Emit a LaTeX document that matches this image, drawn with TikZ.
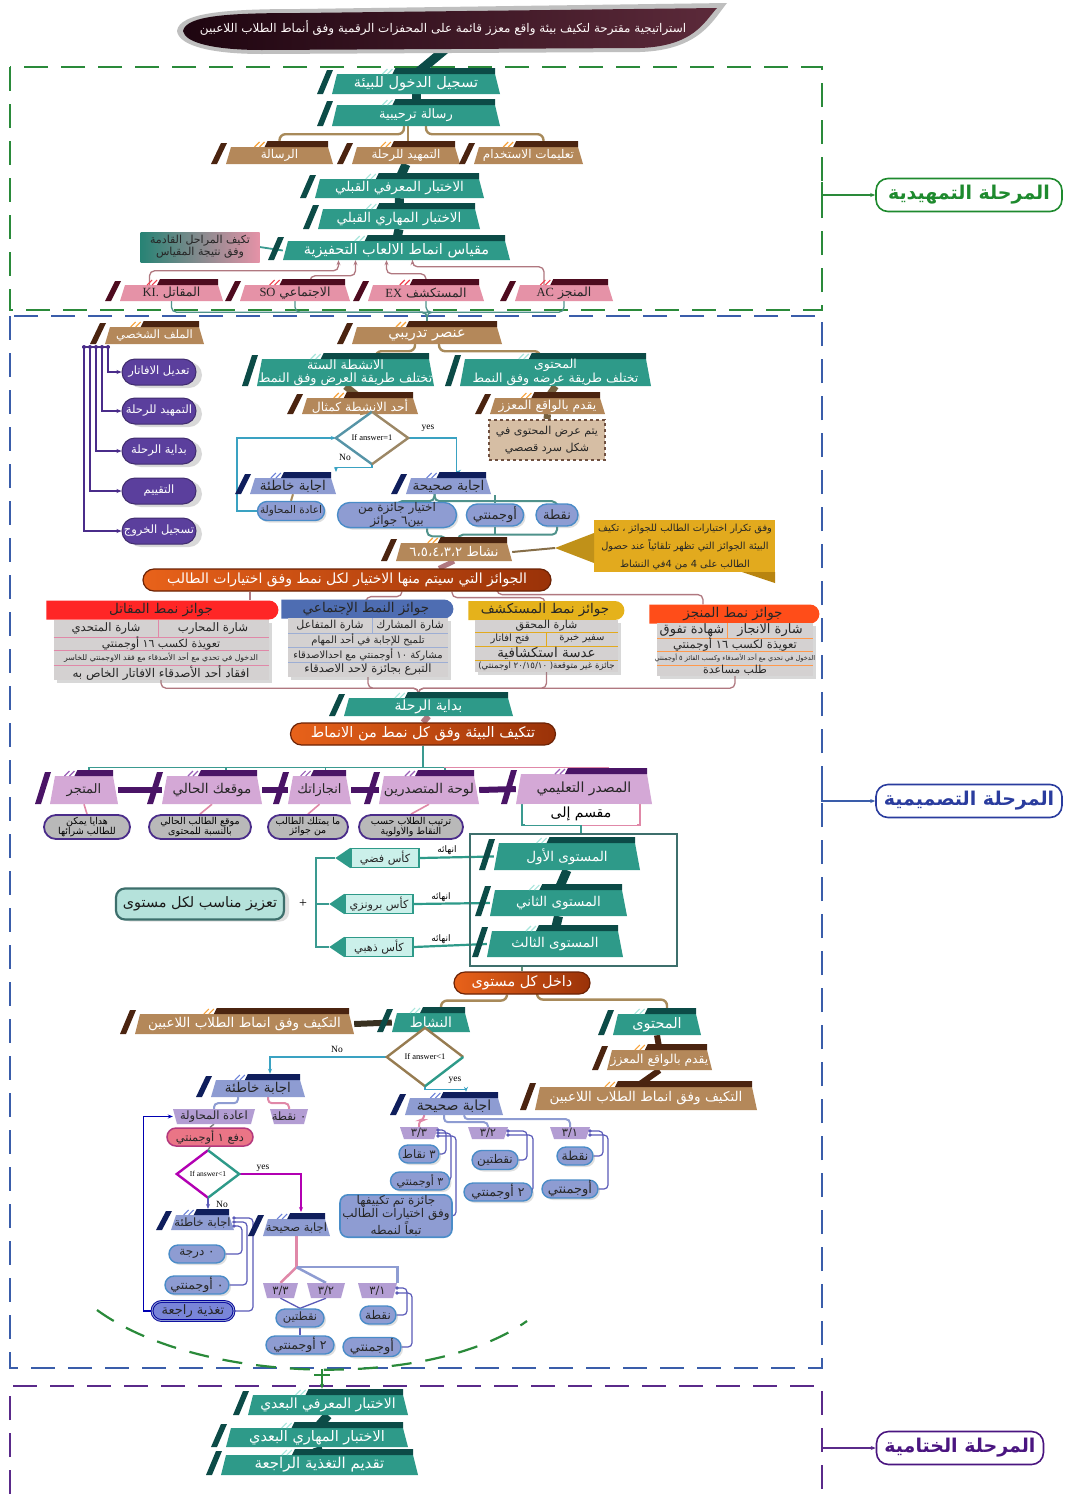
\documentclass[tikz,border=0pt]{standalone}
\usepackage{fontspec}
\setmainfont{Liberation Serif}
\newfontfamily\arabicfont[Script=Arabic]{DejaVu Sans}
\TeXXeTstate=1
\usetikzlibrary{shapes.geometric,shapes.misc,arrows.meta,shadows}
\pgfdeclarelayer{bg}
\pgfsetlayers{bg,main}
\newcommand\AR[1]{{\arabicfont\beginR #1\endR}}
\newcommand\fsz[2]{\fontsize{#1}{#2}\selectfont}
\newcommand\Fs[1]{\def\tbfont{\fsz{#1}{#1}}}
\definecolor{tealF}{HTML}{2E9A89}
\definecolor{tealD}{HTML}{0C4B47}
\definecolor{tealH}{HTML}{A8E6DC}
\definecolor{brownF}{HTML}{B4885A}
\definecolor{brownD}{HTML}{4B2410}
\definecolor{brownH}{HTML}{F7A23A}
\definecolor{pinkF}{HTML}{E592A7}
\definecolor{pinkD}{HTML}{4E0B1F}
\definecolor{pinkH}{HTML}{F0404F}
\definecolor{lavF}{HTML}{8E9CD2}
\definecolor{lavD}{HTML}{0F1E5C}
\definecolor{lavH}{HTML}{6A80D8}
\definecolor{orchF}{HTML}{D4A8D6}
\definecolor{orchD}{HTML}{4A1466}
\definecolor{orchH}{HTML}{9A60B8}
\definecolor{smallF}{HTML}{B39DD3}
\definecolor{titL}{HTML}{1E0510}
\definecolor{titR}{HTML}{5C2A3A}
\definecolor{secG}{HTML}{2A8A3A}
\definecolor{secB}{HTML}{3A5DAA}
\definecolor{secP}{HTML}{5A2A8A}
\definecolor{labG}{HTML}{1E8A2E}
\definecolor{labB}{HTML}{2A3C9E}
\definecolor{labP}{HTML}{4A1580}
\definecolor{purpF}{HTML}{5B3F9D}
\definecolor{purpD}{HTML}{4A2C8A}
\definecolor{pillB}{HTML}{4A8CC8}
\definecolor{brownL}{HTML}{A88A5A}
\definecolor{tealL}{HTML}{3A9A90}
\definecolor{pinkL}{HTML}{E088A8}
\definecolor{flowB}{HTML}{3AA2C2}
\definecolor{awL}{HTML}{B07880}
\definecolor{goldF}{HTML}{E2AA1E}
\definecolor{goldD}{HTML}{B88410}
\definecolor{oraL}{HTML}{E8621A}
\definecolor{oraR}{HTML}{9A3208}
\definecolor{tblG}{HTML}{D4D1D1}
\definecolor{brk}{HTML}{5A5AB8}
\newcommand\Teal{\def\cF{tealF}\def\cD{tealD}\def\cH{tealH}\def\cT{white}}
\newcommand\Brown{\def\cF{brownF}\def\cD{brownD}\def\cH{brownH}\def\cT{white}}
\newcommand\Pink{\def\cF{pinkF}\def\cD{pinkD}\def\cH{pinkH}\def\cT{black!85}}
\newcommand\Lav{\def\cF{lavF}\def\cD{lavD}\def\cH{lavH}\def\cT{black!85}}
\newcommand\Orch{\def\cF{orchF}\def\cD{orchD}\def\cH{orchH}\def\cT{black!85}}
\def\tbfont{\fsz{13}{14}}
\newcommand\TB[7]{\begingroup#1%
  \pgfmathsetmacro\xa{#3+0.36*(#5-#3)}%
  \fill[\cF] ({#3+5},#4) -- ({#5-5},#4) -- (#5,#6) -- (#3,#6) -- cycle;
  \fill[\cD] ({\xa+3},{#4-6}) -- ({#5-5},{#4-6}) -- ({#5-5},#4) -- (\xa,#4) -- cycle;
  \draw[\cH,line width=1.1pt] ({\xa-10},#4) -- ({\xa-5},{#4-5}) ({\xa-5},#4) -- (\xa,{#4-5});
  \fill[\cD] ({#3-15},#6) -- ({#3-9},#6) -- ({#3+1},{#4-4}) -- ({#3-5},{#4-4}) -- cycle;
  \node[inner sep=0pt,minimum width={#5-#3},minimum height={#6-#4},text=\cT,font=\tbfont,align=center] (#2) at ({(#3+#5)/2},{(#4+#6)/2}) {#7};
  \endgroup}
\newcommand\ST[6]{%
  \fill[smallF] (#2,#3) -- (#4,#3) -- ({#4-4},#5) -- ({#2+4},#5) -- cycle;
  \node[inner sep=0pt,minimum width={#4-#2},minimum height={#5-#3},text=black!85,font=\fsz{11.5}{12}] (#1) at ({(#2+#4)/2},{(#3+#5)/2}) {#6};}
\tikzset{
  dkc/.style={draw=tealD,line width=9pt},
  dkb/.style={draw=brownL!70!black,line width=7pt},
  brc/.style={draw=brownL,line width=2.4pt,rounded corners=6pt},
  pkc/.style={draw=awL,line width=1.3pt,rounded corners=5pt},
  gtc/.style={draw=tealL!70!gray,line width=1.3pt,rounded corners=5pt},
  flw/.style={draw=flowB,line width=1.4pt},
  lpill/.style={rounded rectangle,fill=lavF,draw=pillB,line width=1.4pt,text=black!85,font=\fsz{12}{12},inner xsep=3pt,inner ysep=0pt,align=center,drop shadow={opacity=0.25,shadow xshift=2pt,shadow yshift=-2pt}},
  ppill/.style={rounded rectangle,fill=purpF,draw=purpF!70!black,line width=1pt,text=white,font=\fsz{11.5}{12},minimum width=76,minimum height=26,inner sep=1pt,drop shadow={opacity=0.3,shadow xshift=6pt,shadow yshift=-3pt}},
  gpill/.style={rounded rectangle,fill=gray!55,draw=purpD,line width=1.8pt,text=black,font=\fsz{9.5}{9},align=center,inner sep=1pt,minimum height=24},
  obar/.style={rounded rectangle,left color=oraL,right color=oraR,draw=oraR!70!black,line width=1.2pt,text=white,inner sep=0pt,minimum height=22},
  hdr/.style={rounded rectangle,rounded rectangle west arc=none,inner sep=0pt,minimum height=19,text=black!85,font=\fsz{13.5}{14}},
  tbl/.style={rectangle,fill=tblG,inner sep=0pt,drop shadow={opacity=0.3,shadow xshift=3pt,shadow yshift=-3pt}},
  rowt/.style={inner sep=0pt,text=black!85,font=\fsz{11}{11}},
  tiny/.style={inner sep=0pt,text=black!85,font=\fsz{7.6}{8}},
  cup/.style={rectangle,fill=tealH!60!white,draw=tealF,line width=1.4pt,minimum width=68,minimum height=19,inner sep=0pt,font=\fsz{11.2}{12},text=black!85},
  dmd/.style={diamond,fill=white,inner sep=0pt,aspect=1.4,font=\fsz{8.5}{9}},
  lab/.style={rounded corners=12pt,draw,line width=1.6pt,fill=white,minimum height=33,inner sep=2pt,font=\fsz{19}{20}\bfseries},
  smalltxt/.style={inner sep=0pt,font=\fsz{9.5}{10},text=black}
}
\begin{document}
\begin{tikzpicture}[x=1pt,y=-1pt,>={Stealth[length=5pt,width=4pt]}]
\useasboundingbox (0,0) rectangle (1065,1494);
\begin{pgfonlayer}{bg}
\fill[white] (0,0) rectangle (1065,1494);
\draw[secG,line width=2.2pt,dash pattern=on 24pt off 13pt] (10,67) rectangle (822,310);
\draw[secB,line width=2.2pt,dash pattern=on 24pt off 13pt] (10,316) rectangle (822,1368);
\draw[secP,line width=2.2pt,dash pattern=on 24pt off 13pt] (10,1494) -- (10,1386) -- (822,1386) -- (822,1494);
\end{pgfonlayer}

% ---------- title
\fill[gray!50] (177,31) .. controls (179,12) and (230,9) .. (300,9) -- (727,3) .. controls (713,20) and (700,50) .. (640,52) -- (262,54) .. controls (212,54) and (179,46) .. (177,31) -- cycle;
\shade[left color=titL,right color=titR] (183,31) .. controls (186,15) and (232,13) .. (300,13) -- (717,8) .. controls (704,22) and (694,46) .. (640,48) -- (262,50) .. controls (215,50) and (185,43) .. (183,31) -- cycle;
\node[text=white!90!pink,font=\fsz{12}{13}] (title) at (443,28) {\AR{استراتيجية مقترحة لتكيف بيئة واقع معزز قائمة على المحفزات الرقمية وفق أنماط الطلاب اللاعبين}};

% ---------- section labels
\node[lab,draw=labG,text=labG,minimum width=186] (L1) at (969,195) {\AR{المرحلة التمهيدية}};
\node[lab,draw=labB,text=labB,minimum width=186] (L2) at (969,801) {\AR{المرحلة التصميمية}};
\node[lab,draw=labP,text=labP,minimum width=167] (L3) at (960,1448) {\AR{المرحلة الختامية}};

% ---------- section 1
\TB{\Teal\Fs{14.5}}{t1}{332}{74}{500}{94}{\AR{تسجيل الدخول للبيئة}}
\TB{\Teal\Fs{13}}{t2}{332}{105}{500}{126}{\AR{رسالة ترحيبية}}
\TB{\Brown\Fs{12}}{b1}{226}{147}{333}{164}{\AR{الرسالة}}
\TB{\Brown\Fs{12}}{b2}{352}{147}{460}{164}{\AR{التمهيد للرحلة}}
\TB{\Brown\Fs{12}}{b3}{474}{147}{583}{164}{\AR{تعليمات الاستخدام}}
\TB{\Teal\Fs{13.5}}{t3}{315}{179}{484}{198}{\AR{الاختبار المعرفي القبلي}}
\TB{\Teal\Fs{13.5}}{t4}{318}{209}{480}{229}{\AR{الاختبار المهاري القبلي}}
\TB{\Teal\Fs{14.5}}{t5}{283}{241}{510}{260}{\AR{مقياس انماط الالعاب التحفيزية}}
\node[left color=tealF!85!black,right color=pinkF,minimum width=119,minimum height=30,inner sep=0pt,align=center,font=\fsz{11}{12},text=black!85] (s1) at (200,247) {\AR{تكيف المراحل القادمة}\\\AR{وفق نتيجة المقياس}};
\TB{\Pink\Fs{12.5}}{k1}{120}{285}{223}{301}{\AR{المقاتل {\rmfamily KI.}}}
\TB{\Pink\Fs{12.5}}{k2}{240}{285}{350}{301}{\AR{الاجتماعي {\rmfamily SO}}}
\TB{\Pink\Fs{12.5}}{k3}{368}{285}{484}{301}{\AR{المستكشف {\rmfamily EX}}}
\TB{\Pink\Fs{12.5}}{k4}{515}{285}{613}{301}{\AR{المنجز {\rmfamily AC}}}

% ---------- section 2 : profile
\TB{\Brown\Fs{11.5}}{u0}{105}{327}{204}{344}{\AR{الملف الشخصي}}
\node[ppill] (p1) at (159,372) {\AR{تعديل الافاتار}};
\node[ppill] (p2) at (159,411) {\AR{التمهيد للرحلة}};
\node[ppill] (p3) at (159,451) {\AR{بداية الرحلة}};
\node[ppill] (p4) at (159,491) {\AR{التقييم}};
\node[ppill] (p5) at (159,531) {\AR{تسجيل الخروج}};
\coordinate (bs1) at (108,347);
\coordinate (bs2) at (102,347);
\coordinate (bs3) at (96,347);
\coordinate (bs4) at (90,347);
\coordinate (bs5) at (84,347);

% training element
\TB{\Brown\Fs{14.5}}{u1}{352}{327}{502}{344}{\AR{عنصر تدريبي}}
\TB{\Teal\def\tbfont{\fsz{12.8}{13.5}}}{u2}{257}{359}{434}{386}{\AR{الانشطة الستة}\\\AR{تختلف طريقة العرض وفق النمط}}
\TB{\Teal\def\tbfont{\fsz{12.5}{13.5}}}{u3}{460}{359}{651}{386}{\AR{المحتوى}\\\AR{تختلف طريقة عرضه وفق النمط}}
\TB{\Brown\Fs{12.3}}{u4}{302}{398}{418}{414}{\AR{أحد الانشطة كمثال}}
\TB{\Brown\Fs{12.3}}{u5}{490}{398}{605}{414}{\AR{يقدم بالواقع المعزز}}
\node[draw=brownD!80,dashed,line width=2pt,fill=brownF!55!white,minimum width=116,minimum height=40,inner sep=0pt,align=center,font=\fsz{11}{17},text=black!85] (u6) at (547,440) {\AR{يتم عرض المحتوى في}\\\AR{شكل سرد قصصي}};
\node[dmd,minimum width=72,minimum height=52] (d1) at (372,438) {If answer=1};
\draw[line width=2.4pt,draw=flowB!60!gray] (d1.south) -- (d1.west) -- (d1.north);
\draw[line width=2.4pt,draw=brownL!70!gray] (d1.north) -- (d1.east) -- (d1.south);
\node[smalltxt] (yes1) at (428,428) {yes};
\node[smalltxt] (no1) at (345,457) {No};
\TB{\Lav\Fs{13.5}}{w1}{250}{478}{336}{494}{\AR{اجابة خاطئة}}
\TB{\Lav\Fs{13.5}}{c1}{406}{478}{491}{494}{\AR{اجابة صحيحة}}
\node[lpill,minimum width=73,minimum height=19,font=\fsz{10.5}{11}] (r1) at (291,511) {\AR{اعادة المحاولة}};
\node[lpill,minimum width=125,minimum height=25,font=\fsz{12}{9.5}] (g1) at (397,515) {\AR{اختيار جائزة من}\\\AR{بين٦ جوائز}};
\node[lpill,minimum width=56,minimum height=22,font=\fsz{13}{13}] (g2) at (495,515) {\AR{أوجمنتي}};
\node[lpill,minimum width=48,minimum height=22,font=\fsz{13}{13}] (g3) at (557,515) {\AR{نقطة}};
\TB{\Brown\Fs{13.3}}{u7}{396}{543}{512}{561}{\AR{نشاط ٦،٥،٤،٣،٢}}
\fill[goldD] (742,572) -- (775,572) -- (775,583) -- cycle;
\fill[goldF] (594,520) rectangle (775,572);
\fill[goldF!85!black] (594,533) -- (555,548) -- (594,563) -- cycle;
\coordinate (cotip) at (555,548);
\node[text=black!85,font=\fsz{9.8}{18},align=center,inner sep=0pt] (co) at (685,547) {\AR{وفق تكرار اختيارات الطالب للجوائز ، تكيف}\\\AR{البيئة الجوائز التي تظهر تلقائياً عند حصول}\\\AR{الطالب على 4 من 4في النشاط}};
\node[obar,minimum width=408,font=\fsz{14}{14}] (o1) at (347,580) {\AR{الجوائز التي سيتم منها الاختيار لكل نمط  وفق اختيارات الطالب}};

% award tables
\node[hdr,fill=red!80!pink,minimum width=232] (ha) at (161,610) {\AR{جوائز  نمط المقاتل}};
\node[tbl,minimum width=215,minimum height=60] (ta) at (161,650) {};
\draw[pinkL,line width=1pt] (53.5,637) -- (268.5,637) (53.5,650) -- (268.5,650) (53.5,665) -- (268.5,665) (158,620) -- (158,637);
\node[rowt,font=\fsz{11.7}{12}] (ta1) at (213,628) {\AR{شارة المحارب}};
\node[rowt,font=\fsz{11.7}{12}] (ta2) at (106,628) {\AR{شارة المتحدي}};
\node[rowt] (ta3) at (161,643.5) {\AR{تعويذة لكسب ١٦ أوجمنتي}};
\node[tiny,font=\fsz{7.8}{8}] (ta4) at (161,657.5) {\AR{الدخول في تحدي مع أحد الأصدقاء مع فقد الاوجمنتي للخاسر}};
\node[rowt,font=\fsz{12}{12}] (ta5) at (161,672.5) {\AR{افقاد أحد الأصدقاء الافاتار الخاص به}};

\node[hdr,fill=secB!90!white,minimum width=172] (hb) at (366,609) {\AR{جوائز  النمط الإجتماعي}};
\node[tbl,minimum width=160,minimum height=59] (tb) at (368,647.5) {};
\draw[secB!50!white,line width=1pt] (288,633) -- (448,633) (288,647) -- (448,647) (288,662) -- (448,662) (372,618) -- (372,633);
\node[rowt] (tb1) at (410,625.5) {\AR{شارة المشارك}};
\node[rowt] (tb2) at (330,625.5) {\AR{شارة المتفاعل}};
\node[rowt,font=\fsz{10}{10}] (tb3) at (368,640) {\AR{تلميح للإجابة في أحد المهام}};
\node[rowt,font=\fsz{10}{10}] (tb4) at (368,654.5) {\AR{مشاركة ١٠ أوجمنتي مع احدالاصدقاء}};
\node[rowt,font=\fsz{11.5}{12}] (tb5) at (368,669.5) {\AR{التبرع بجائزة لاحد الاصدقاء}};

\node[hdr,fill=goldF!90!yellow,minimum width=156] (hc) at (545,610.5) {\AR{جوائز  نمط المستكشف}};
\node[tbl,minimum width=143,minimum height=52] (tc) at (546.5,646) {};
\draw[goldF,line width=1pt] (475,632) -- (618,632) (475,646) -- (618,646) (475,660) -- (618,660) (546,632) -- (546,646);
\node[rowt] (tc1) at (546.5,626) {\AR{شارة المحقق}};
\node[rowt,font=\fsz{10}{10}] (tc2) at (582,639) {\AR{سفير خبرة}};
\node[rowt,font=\fsz{10}{10}] (tc3) at (510,639) {\AR{فتح افاتار}};
\node[rowt,font=\fsz{13.5}{13}] (tc4) at (546.5,653) {\AR{عدسة استكشافية}};
\node[tiny,font=\fsz{8.6}{9}] (tc5) at (546.5,666) {\AR{جائزة غير متوقعة( ٢٠/١٥/١٠ اوجمنتي)}};

\node[hdr,fill=red!55!orange!90!white,minimum width=170] (hd) at (733,614) {\AR{جوائز  نمط المنجز}};
\node[tbl,minimum width=156,minimum height=53] (td) at (735,649.5) {};
\draw[orange!60!pink,line width=1pt] (657,638) -- (813,638) (657,651) -- (813,651) (657,665) -- (813,665) (727,623) -- (727,638);
\node[rowt,font=\fsz{13}{13}] (td1) at (770,630.5) {\AR{شارة الانجاز}};
\node[rowt,font=\fsz{13}{13}] (td2) at (692,630.5) {\AR{شهادة تفوق}};
\node[rowt,font=\fsz{11.5}{12}] (td3) at (735,644.5) {\AR{تعويذة لكسب ١٦ أوجمنتي}};
\node[tiny,font=\fsz{6.6}{7}] (td4) at (735,658) {\AR{الدخول في تحدي مع أحد الأصدقاء وكسب الفائز ٥ أوجمنتي}};
\node[rowt] (td5) at (735,670.5) {\AR{طلب مساعدة}};

% journey start
\TB{\Teal\Fs{14}}{t8}{344}{698}{513}{716}{\AR{بداية الرحلة}}
\node[obar,minimum width=265,font=\fsz{14.5}{14}] (o2) at (423,734) {\AR{تتكيف البيئة وفق كل نمط من الانماط}};
\TB{\Orch\Fs{13}}{m1}{50}{776}{118}{804}{\AR{المتجر}}
\TB{\Orch\Fs{13.5}}{m2}{162}{776}{262}{804}{\AR{موقعك الحالي}}
\TB{\Orch\Fs{13}}{m3}{288}{776}{351}{804}{\AR{انجازاتك}}
\TB{\Orch\Fs{13.5}}{m4}{379}{776}{479}{804}{\AR{لوحة المتصدرين}}
\TB{\Orch\Fs{14}}{m5}{516}{774}{652}{804}{\AR{المصدر التعليمي}}
\node[gpill,minimum width=88] (q1) at (87,827) {\AR{هدايا يمكن}\\\AR{للطالب شرائها}};
\node[gpill,minimum width=104] (q2) at (200,827) {\AR{موقع الطالب الحالي}\\\AR{بالنسبة للمحتوى}};
\node[gpill,minimum width=82] (q3) at (308,827) {\AR{ما يمتلك الطالب}\\\AR{من جوائز}};
\node[gpill,minimum width=106] (q4) at (411,827) {\AR{ترتيب الطلاب حسب}\\\AR{النقاط والاولوية}};
\node[fill=white,minimum width=112,minimum height=21,inner sep=0pt,font=\fsz{14}{14}] (mq) at (581,814) {\AR{مقسم إلى}};

% levels
\node[draw=tealD!80,line width=1.5pt,minimum width=207,minimum height=132,inner sep=0pt] (lf) at (573.5,900) {};
\TB{\Teal\Fs{13.5}}{l1}{494}{843}{640}{870}{\AR{المستوى الأول}}
\TB{\Teal\Fs{13.5}}{l2}{490}{890}{627}{916}{\AR{المستوى الثاني}}
\TB{\Teal\Fs{13.5}}{l3}{487}{931}{623}{957}{\AR{المستوى الثالث}}
\node[cup] (cu1) at (385,858) {\AR{كأس فضي}};
\node[cup] (cu2) at (379,904) {\AR{كأس برونزي}};
\node[cup] (cu3) at (379,947) {\AR{كأس ذهبي}};
\fill[tealF] (cu1.north west) -- ([xshift=-15pt]cu1.west) -- (cu1.south west) -- cycle;
\fill[tealF] (cu2.north west) -- ([xshift=-15pt]cu2.west) -- (cu2.south west) -- cycle;
\fill[tealF] (cu3.north west) -- ([xshift=-15pt]cu3.west) -- (cu3.south west) -- cycle;
\node[smalltxt,font=\fsz{9}{9}] (e1l) at (447,850) {\AR{انهائه}};
\node[smalltxt,font=\fsz{9}{9}] (e2l) at (441,897) {\AR{انهائه}};
\node[smalltxt,font=\fsz{9}{9}] (e3l) at (441,939) {\AR{انهائه}};
\node[font=\fsz{14}{14},inner sep=0pt] (plus) at (303,904) {+};
\node[fill=tealH!70!tealF!60!white,draw=tealD!80,line width=2.2pt,rounded corners=9pt,minimum width=168,minimum height=31,inner sep=0pt,font=\fsz{14.4}{15},text=black!90,drop shadow={opacity=0.25,shadow xshift=5pt,shadow yshift=-2pt}] (tz) at (200,904) {\AR{تعزيز مناسب لكل مستوى}};
\node[obar,minimum width=136,font=\fsz{14.4}{14}] (dk) at (522,983) {\AR{داخل كل مستوى}};

% inside each level
\TB{\Teal\Fs{14}}{na}{392}{1013}{470}{1032}{\AR{النشاط}}
\TB{\Brown\Fs{13.5}}{bl}{135}{1014}{354}{1034}{\AR{التكيف وفق  انماط الطلاب اللاعبين}}
\TB{\Teal\Fs{14.5}}{nm}{613}{1014}{701}{1035}{\AR{المحتوى}}
\TB{\Brown\Fs{12.3}}{by}{607}{1050}{712}{1070}{\AR{يقدم بالواقع المعزز}}
\TB{\Brown\Fs{13.5}}{br}{535}{1087}{757}{1110}{\AR{التكيف وفق  انماط الطلاب اللاعبين}}
\node[dmd,minimum width=76,minimum height=58] (d2) at (425,1057) {If answer<1};
\draw[line width=2.4pt,draw=brownL!90!black] (d2.south) -- (d2.west) -- (d2.north) -- (d2.east);
\draw[line width=2.4pt,draw=tealF] (d2.east) -- (d2.south);
\node[smalltxt] (no2) at (337,1049) {No};
\node[smalltxt] (yes2) at (455,1080) {yes};
\TB{\Lav\Fs{13.5}}{wa}{211}{1080}{305}{1097}{\AR{اجابة خاطئة}}
\TB{\Lav\Fs{14}}{ca}{405}{1098}{503}{1115}{\AR{اجابة صحيحة}}
\ST{ra}{173}{1109}{255}{1124}{\AR{اعادة المحاولة}}
\ST{zn}{270}{1109}{308}{1124}{\AR{٠ نقطة}}
\node[rounded rectangle,fill=pinkF!80!red,draw=magenta!70!black,line width=1.5pt,minimum width=88,minimum height=18,inner sep=1pt,font=\fsz{11.3}{11},text=black!85] (df) at (210,1137) {\AR{دفع ١ أوجمنتي}};
\node[dmd,minimum width=62,minimum height=47,font=\fsz{7.5}{8}] (d3) at (208,1174) {If answer<1};
\draw[line width=2.4pt,draw=violet!60!magenta] (d3.south) -- (d3.west) -- (d3.north);
\draw[line width=2.4pt,draw=tealF] (d3.north) -- (d3.east) -- (d3.south);
\node[smalltxt] (yes3) at (263,1168) {yes};
\node[smalltxt] (no3) at (222,1204) {No};
\TB{\Lav\Fs{11.5}}{sw}{171}{1215}{234}{1230}{\AR{اجابة خاطئة}}
\TB{\Lav\Fs{11.5}}{sc}{263}{1219}{330}{1236}{\AR{اجابة صحيحة}}
\node[lpill,minimum width=62,minimum height=18] (z1) at (197,1254) {\AR{٠  درجة}};
\node[lpill,minimum width=70,minimum height=18,font=\fsz{12.5}{12}] (z2) at (197,1285) {\AR{٠ أوجمنتي}};
\node[rounded rectangle,fill=lavF!85!blue,draw=blue!60!black,double=lavF,double distance=1pt,line width=0.9pt,minimum width=84,minimum height=19,inner sep=1pt,font=\fsz{13}{12},text=black!85] (fb) at (193,1311) {\AR{تغذية راجعة}};
\ST{qa3}{263}{1283}{298}{1298}{\AR{٣/٣}}
\ST{qa2}{307}{1283}{345}{1298}{\AR{٣/٢}}
\ST{qa1}{358}{1283}{397}{1298}{\AR{٣/١}}
\node[lpill,minimum width=54,minimum height=18,font=\fsz{11.5}{11}] (nt) at (300,1318) {\AR{نقطتين}};
\node[lpill,minimum width=66,minimum height=18,font=\fsz{12.5}{12}] (a2) at (300,1345) {\AR{٢ أوجمنتي}};
\node[lpill,minimum width=42,minimum height=18] (n1) at (378,1315) {\AR{نقطة}};
\node[lpill,minimum width=64,minimum height=19,font=\fsz{13}{12}] (a1) at (372,1347) {\AR{أوجمنتي}};
\ST{qb3}{400}{1127}{438}{1139}{\AR{٣/٣}}
\ST{qb2}{468}{1127}{508}{1139}{\AR{٣/٢}}
\ST{qb1}{550}{1127}{590}{1139}{\AR{٣/١}}
\node[lpill,minimum width=46,minimum height=18,font=\fsz{11.7}{11}] (p3n) at (419,1154) {\AR{٣ نقاط}};
\node[lpill,minimum width=58,minimum height=18,font=\fsz{11}{11}] (p3a) at (420,1181) {\AR{٣ أوجمنتي}};
\node[rectangle,rounded corners=8pt,fill=lavF,draw=pillB,line width=1.6pt,minimum width=112,minimum height=42,inner sep=1pt,align=center,font=\fsz{12}{11.5},text=black!85] (pj) at (396,1216) {\AR{جائزة تم تكييفها}\\\AR{وفق اختيارات الطالب}\\\AR{تبعاً لنمطه}};
\node[lpill,minimum width=44,minimum height=19] (p2n) at (495,1160) {\AR{نقطتين}};
\node[lpill,minimum width=64,minimum height=18,font=\fsz{12.5}{12}] (p2a) at (498,1192) {\AR{٢ أوجمنتي}};
\node[lpill,minimum width=42,minimum height=18,font=\fsz{12.5}{12}] (p1n) at (575,1156) {\AR{نقطة}};
\node[lpill,minimum width=62,minimum height=18,font=\fsz{13}{12}] (p1a) at (570,1189) {\AR{أوجمنتي}};
\coordinate (gc) at (322,1369);

% ---------- section 3
\TB{\Teal\Fs{14}}{e1}{248}{1395}{408}{1415}{\AR{الاختبار المعرفي البعدي}}
\TB{\Teal\Fs{14.5}}{e2}{226}{1428}{408}{1447}{\AR{الاختبار المهاري البعدي}}
\TB{\Teal\Fs{15}}{e3}{221}{1455}{418}{1475}{\AR{تقديم التغذية الراجعة}}

% ================= connectors (background)
\begin{pgfonlayer}{bg}
\draw[dkc] (447,48) -- (t1.north);
\draw[dkc] (t1.south) -- (t2.north);
\draw[brc] ([xshift=-12pt]t2.south) -- ++(0,8) -| (b1.north);
\draw[brc] ([xshift=-8pt]t2.south) -- (b2.north -| 408,0);
\draw[brc] ([xshift=10pt]t2.south) -- ++(0,8) -| ([xshift=15pt]b3.north);
\draw[dkc] (b2.south) -- (t3.north);
\draw[dkc] (t3.south) -- (t4.north);
\draw[dkc] (t4.south) -- (t5.north);
\draw[tealL,line width=1.8pt] (s1.east) -- (t5.west);
\draw[pkc,->] ([xshift=-22pt]k1.north) -- ++(0,-14) -| ([xshift=-58pt]t5.south);
\draw[pkc,->] ([xshift=15pt]k2.north) -- ++(0,-9) -| ([xshift=-41pt]t5.south);
\draw[pkc,->] (k3.north) -- ++(0,-11) -| ([xshift=-10pt]t5.south);
\draw[pkc,->] ([xshift=-20pt]k4.north) -- ++(0,-18) -| ([xshift=16pt]t5.south);
\draw[gtc] (k1.south) -- ++(0,11) -| (u1.north);
\draw[gtc] (k2.south) -- ++(0,11) -| (u1.north);
\draw[gtc] (k3.south) -- ++(0,11) -| (u1.north);
\draw[gtc] (k4.south) -- ++(0,11) -| (u1.north);
% profile bus
\draw[purpD,line width=1.2pt] (82,347) -- (110,347);
\foreach \i in {1,...,5}{\draw[purpD,line width=1.2pt,->] (bs\i) |- (p\i.west); \fill[purpD] (bs\i) circle (2pt);}
% training tree
\draw[brc] ([xshift=-12pt]u1.south) -- ++(0,7) -| ([xshift=30pt]u2.north);
\draw[brc] ([xshift=12pt]u1.south) -- ++(0,7) -| ([xshift=-15pt]u3.north);
\draw[dkb] (u2.south) -- (u4.north);
\draw[dkb] (u3.south) -- (u5.north);
\draw[dkb] (u5.south) -- (u6.north);
\draw[brownL,line width=2pt] (u4.south) -- (d1.north);
\draw[flw,->] (d1.east) -- ++(48,0) |- ([yshift=6pt]c1.north -| 456,0);
\draw[flw,->] (d1.south) -- ++(0,3) -| (336,472);
\draw[flw,->] (r1.west) -- ++(-20,0) |- (d1.west);
\draw[brownL,line width=2pt] (w1.south) -- (r1.north);
\draw[gtc,line width=2pt] ([xshift=-14pt]c1.south) -- ++(0,7) -| (g1.north);
\draw[gtc,line width=2pt] ([xshift=-14pt]c1.south) -- ++(0,7) -| (g3.north);
\draw[gtc,line width=2pt] (g2.north) -- ++(0,-8);
\draw[gtc,line width=2pt] ([xshift=30pt]g1.south) -- ++(0,8) -| ([xshift=-8pt]u7.north);
\draw[gtc,line width=2pt] (g3.south) -- ++(0,8) -| ([xshift=4pt]u7.north);
\draw[gtc,line width=2pt] (g2.south) -- ++(0,8);
\draw[brownL!80!black,line width=2pt] (u7.east) -- (cotip);
\draw[awL,line width=5pt] (u7.south) -- ([xshift=92pt]o1.north);
% award lines
\draw[pkc] ([xshift=-97pt]o1.south) -- (ha.north -| 250,0);
\draw[pkc] ([xshift=55pt]o1.south) -- ++(0,5) -| (hb.north);
\draw[pkc] ([xshift=105pt]o1.south) -- ++(0,6) -| (hc.north);
\draw[pkc] ([xshift=150pt]o1.south) -- ++(0,3) -| ([xshift=-30pt]hd.north);
\draw[pkc] (ta.south) -- ++(0,8) -| ([xshift=-10pt]t8.north);
\draw[pkc] (tb.south) -- ++(0,11) -| ([xshift=-10pt]t8.north);
\draw[pkc] (tc.south) -- ++(0,16) -| ([xshift=-10pt]t8.north);
\draw[pkc] (td.south) -- ++(0,12) -| ([xshift=-10pt]t8.north);
\draw[awL,line width=6pt] (t8.south) -- (o2.north);
% tree below o2
\draw[tealL,line width=1.6pt] (o2.south) -- ++(0,22) -| ([xshift=5pt]m1.north);
\draw[tealL,line width=1.6pt] (o2.south) -- ++(0,22) -| ([xshift=14pt]m2.north);
\draw[tealL,line width=1.6pt] (o2.south) -- ++(0,22) -| ([xshift=6pt]m3.north);
\draw[tealL,line width=1.6pt] (o2.south) -- ++(0,22) -| ([xshift=16pt]m4.north);
\draw[pinkL,line width=1.6pt] ([xshift=21pt]o2.south) ++(0,22) -| ([xshift=24pt]m5.north);
\draw[orchD,line width=6pt] (m1.east) -- (m2.west);
\draw[orchD,line width=6pt] (m2.east) -- (m3.west);
\draw[orchD,line width=6pt] (m3.east) -- (m4.west);
\draw[orchD,line width=6pt] (m4.east) -- (m5.west);
\draw[pinkL,line width=1.6pt] (m1.south) -- (q1.north);
\draw[pinkL,line width=1.6pt] (m2.south) -- (q2.north);
\draw[pinkL,line width=1.6pt] (m3.south) -- (q3.north);
\draw[pinkL,line width=1.6pt] (m4.south) -- (q4.north);
\draw[tealL,line width=1.6pt] ([xshift=-62pt]m5.south) |- (mq.south);
\draw[pinkL,line width=1.6pt] ([xshift=56pt]m5.south) |- (mq.south);
\draw[tealL,line width=1.6pt] (mq.south) -- (mq.south |- lf.north);
\draw[dkc] (l1.south) -- (l2.north);
\draw[dkc] (l2.south) -- (l3.north);
\draw[tealF,line width=2.2pt] (cu1.east) -- (l1.west);
\draw[tealF,line width=2.2pt] (cu2.east) -- (l2.west);
\draw[tealF,line width=2.2pt] (cu3.east) -- (l3.west);
\draw[tealL,line width=1.4pt] ([xshift=-15pt]cu1.west) -- (316,858) -- (316,947) -- ([xshift=-15pt]cu3.west);
\draw[tealL,line width=1.4pt] (316,904) -- ([xshift=-15pt]cu2.west);
\draw[tealL!70!brown,line width=1.6pt] (dk.north |- lf.south) -- (dk.north);
\draw[brc] ([xshift=-15pt]dk.south) -- ++(0,6) -| ([xshift=10pt]na.north);
\draw[brc] ([xshift=15pt]dk.south) -- ++(0,5) -| ([xshift=10pt]nm.north);
\draw[brownD!70!tealD,line width=6pt] (bl.east) -- (na.west);
\draw[brownD,line width=6pt] (nm.south) -- (by.north);
\draw[brownD,line width=6pt] (by.south) -- ([xshift=-10pt]br.north);
\draw[brownL,line width=2pt] (na.south) -- (d2.north);
\draw[flw,->] (d2.west) -| ([xshift=12pt,yshift=6pt]wa.north);
\draw[flw,->] (d2.south) -- ++(0,3) -| ([xshift=12pt,yshift=6pt]ca.north);
\draw[lavF,line width=2pt,rounded corners=4pt] ([xshift=-20pt]wa.south) -- ++(0,6) -| (ra.north);
\draw[pinkL,line width=2pt,rounded corners=4pt] ([xshift=10pt]wa.south) -- ++(0,6) -| (zn.north);
\draw[gray,line width=1.4pt] (ra.south) -- (df.north);
\draw[gray,line width=1.4pt] (df.south) -- (d3.north);
\draw[violet!60!magenta,line width=1.3pt,->] (d3.east) -| (301,1212);
\draw[brk,line width=1.3pt,->] (d3.south) -- (208,1209);
\draw[brk,line width=1.2pt,rounded corners=4pt] (234,1218) -- (253,1218) -- (253,1311) -- (fb.east);
\draw[brk,line width=1.2pt,rounded corners=4pt] (234,1222) -- (247,1222) -- (247,1285) -- (z2.east);
\draw[brk,line width=1.2pt,rounded corners=4pt] (234,1226) -- (242,1226) -- (242,1254) -- (z1.east);
\draw[blue!70!black,line width=1.4pt,->] (fb.west) -- ++(-8,0) |- (ra.west);
\draw[pinkL,line width=2.5pt] (sc.south) -- ++(0,31) coordinate (jn);
\draw[pinkL,line width=2.5pt] (jn) -- (qa3.north);
\draw[lavF,line width=2.5pt] (jn) -- (qa2.north);
\draw[lavF,line width=2.5pt] (jn) -| ([xshift=20pt]qa1.north);
\draw[brk,line width=1.3pt] (qa3.south) -- (nt.north) -- (qa2.south);
\draw[brk,line width=1.3pt] (nt.south) -- (a2.north);
\draw[brk,line width=1.2pt,rounded corners=4pt] (397,1288) -- (407,1288) -- (407,1315) -- (n1.east);
\draw[brk,line width=1.2pt,rounded corners=4pt] (397,1293) -- (412,1293) -- (412,1347) -- (a1.east);
\draw[pinkL,line width=2pt,rounded corners=4pt] ([xshift=-30pt]ca.south) -- ++(0,5) -| (qb3.north);
\draw[lavF,line width=2pt,rounded corners=4pt] ([xshift=-10pt]ca.south) -- ++(0,7) -| (qb2.north);
\draw[lavF,line width=2pt,rounded corners=4pt] ([xshift=10pt]ca.south) -- ++(0,4) -| (qb1.north);
\draw[brk,line width=1.2pt,rounded corners=4pt] (438,1130) -- (446,1130) -- (446,1154) -- (p3n.east);
\draw[brk,line width=1.2pt,rounded corners=4pt] (438,1133) -- (451,1133) -- (451,1181) -- (p3a.east);
\draw[brk,line width=1.2pt,rounded corners=4pt] (438,1136) -- (456,1136) -- (456,1216) -- (pj.east);
\draw[brk,line width=1.2pt,rounded corners=4pt] (508,1131) -- (527,1131) -- (527,1160) -- (p2n.east);
\draw[brk,line width=1.2pt,rounded corners=4pt] (508,1135) -- (533,1135) -- (533,1192) -- (p2a.east);
\draw[brk,line width=1.2pt,rounded corners=4pt] (590,1131) -- (603,1131) -- (603,1156) -- (p1n.east);
\draw[brk,line width=1.2pt,rounded corners=4pt] (590,1135) -- (608,1135) -- (608,1189) -- (p1a.east);
\draw[secG,line width=2.2pt,dash pattern=on 20pt off 14pt] (97,1310) .. controls (200,1385) and (430,1390) .. (527,1321);
\draw[secG,line width=1.6pt,->] (gc) -- ([yshift=6pt]e1.north -| gc);
\draw[secG,line width=1.6pt] (314,1375) -- (330,1375);
\draw[dkc] (e1.south) -- (e2.north);
\draw[dkc] (e2.south) -- (e3.north);
% labels
\draw[secG,line width=1.6pt,->] (822,182) |- (L1.west);
\draw[secB,line width=1.6pt,->] (822,787) |- (L2.west);
\draw[secP,line width=1.6pt,->] (822,1437) |- (L3.west);
\end{pgfonlayer}
% dots on brackets
\foreach \p in {(234,1218),(234,1222),(234,1226),(397,1288),(397,1293),(438,1130),(438,1133),(438,1136),(508,1131),(508,1135),(590,1131),(590,1135)}{\fill[brk] \p circle (1.8pt);}
\end{tikzpicture}
\end{document}
